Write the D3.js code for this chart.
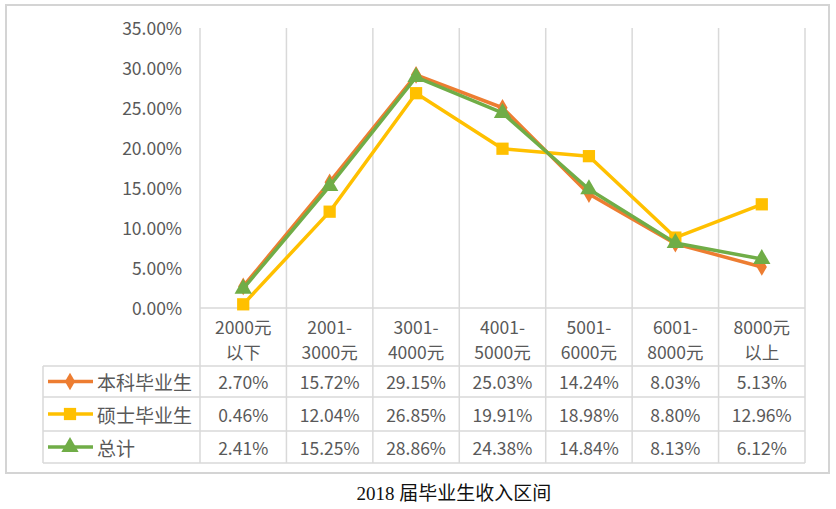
<!DOCTYPE html>
<html><head><meta charset="utf-8">
<script src="https://cdn.jsdelivr.net/npm/d3@7"></script>
<style>
html,body{margin:0;padding:0;background:#fff;}
svg{display:block;}
text{font-family:"Noto Sans CJK SC","Noto Sans",sans-serif;fill:#595959;}
</style></head>
<body>
<svg id="c" width="836" height="509"></svg>
<script>
const categories = [["2000元","以下"],["2001-","3000元"],["3001-","4000元"],["4001-","5000元"],["5001-","6000元"],["6001-","8000元"],["8000元","以上"]];
const seriesNames = ["本科毕业生","硕士毕业生","总计"];
const undergrad = [2.70, 15.72, 29.15, 25.03, 14.24, 8.03, 5.13];
const master = [0.46, 12.04, 26.85, 19.91, 18.98, 8.80, 12.96];
const total = [2.41, 15.25, 28.86, 24.38, 14.84, 8.13, 6.12];
const yTicks = [0, 5, 10, 15, 20, 25, 30, 35];
const title = "2018 届毕业生收入区间";

const colors = ["#ED7D31", "#FFC000", "#70AD47"];
const symbols = [d3.symbolDiamond, d3.symbolSquare, d3.symbolTriangle];
const symSizes = [90, 150, 130];
const series = [undergrad, master, total];

const svg = d3.select("#c");
const plotLeft = 200, plotRight = 805, plotTop = 28, plotBottom = 308;
const rowYs = [366, 397, 431, 463];
const tableLeft = 43;
const grid = "#d9d9d9";
const numSize = "17.5px";

// outer border
svg.append("rect").attr("x", 6).attr("y", 5).attr("width", 823).attr("height", 468)
  .attr("fill", "none").attr("stroke", "#d4d4d4").attr("stroke-width", 2);

const x = d3.scaleBand().domain(d3.range(categories.length)).range([plotLeft, plotRight]);
const y = d3.scaleLinear().domain([0, 35]).range([plotBottom, plotTop]);

// vertical grid lines through plot and table
const edges = d3.range(categories.length + 1).map(i => i < categories.length ? x(i) : x(categories.length - 1) + x.bandwidth());
svg.append("g").selectAll("line").data(edges).join("line")
  .attr("x1", d => d).attr("x2", d => d).attr("y1", plotTop).attr("y2", rowYs[3])
  .attr("stroke", grid).attr("stroke-width", 1.5);

// table horizontal lines
svg.append("line").attr("x1", plotLeft).attr("x2", plotRight).attr("y1", plotBottom).attr("y2", plotBottom)
  .attr("stroke", grid).attr("stroke-width", 1.5);
svg.append("g").selectAll("line").data(rowYs).join("line")
  .attr("x1", tableLeft).attr("x2", plotRight).attr("y1", d => d).attr("y2", d => d)
  .attr("stroke", grid).attr("stroke-width", 1.5);
svg.append("line").attr("x1", tableLeft).attr("x2", tableLeft).attr("y1", rowYs[0]).attr("y2", rowYs[3])
  .attr("stroke", grid).attr("stroke-width", 1.5);

// y axis labels
const yAxis = d3.axisLeft(y).tickValues(yTicks).tickFormat(d => d.toFixed(2) + "%").tickSize(0).tickPadding(0);
const ya = svg.append("g").attr("transform", `translate(182,0)`).call(yAxis);
ya.select(".domain").remove();
ya.selectAll("text").style("font-size", numSize).style("font-family", '"Noto Sans CJK SC",sans-serif').attr("fill", "#595959").attr("dy", "0.35em");

// category header labels
const hdr = svg.append("g");
categories.forEach((c, i) => {
  c.forEach((line, j) => {
    hdr.append("text").attr("x", x(i) + x.bandwidth() / 2).attr("y", 326 + j * 25)
      .attr("text-anchor", "middle").attr("dominant-baseline", "central")
      .style("font-size", numSize).text(line);
  });
});

// table rows
series.forEach((vals, s) => {
  const cy = (rowYs[s] + rowYs[s + 1]) / 2;
  // legend key
  svg.append("line").attr("x1", 48).attr("x2", 93).attr("y1", cy).attr("y2", cy)
    .attr("stroke", colors[s]).attr("stroke-width", 3.5);
  svg.append("path").attr("d", d3.symbol(symbols[s], symSizes[s])())
    .attr("transform", `translate(70,${cy})`).attr("fill", colors[s]);
  svg.append("text").attr("x", 97).attr("y", cy).attr("dominant-baseline", "central")
    .style("font-size", "19px").text(seriesNames[s]);
  vals.forEach((v, i) => {
    svg.append("text").attr("x", x(i) + x.bandwidth() / 2).attr("y", cy)
      .attr("text-anchor", "middle").attr("dominant-baseline", "central")
      .style("font-size", numSize).text(v.toFixed(2) + "%");
  });
});

// lines + markers
const lineGen = d3.line().x((d, i) => x(i) + x.bandwidth() / 2).y(d => y(d));
series.forEach((vals, s) => {
  svg.append("path").datum(vals).attr("d", lineGen)
    .attr("fill", "none").attr("stroke", colors[s]).attr("stroke-width", 3.5)
    .attr("stroke-linejoin", "round");
  svg.append("g").selectAll("path").data(vals).join("path")
    .attr("d", d3.symbol(symbols[s], symSizes[s]))
    .attr("transform", (d, i) => `translate(${x(i) + x.bandwidth() / 2},${y(d)})`)
    .attr("fill", colors[s]);
});

// title
svg.append("text").attr("x", 454).attr("y", 493).attr("text-anchor", "middle")
  .attr("dominant-baseline", "central")
  .style("font-family", '"Liberation Serif","Noto Sans CJK SC",serif')
  .style("font-size", "19px").style("fill", "#111").text(title);
</script>
</body></html>
